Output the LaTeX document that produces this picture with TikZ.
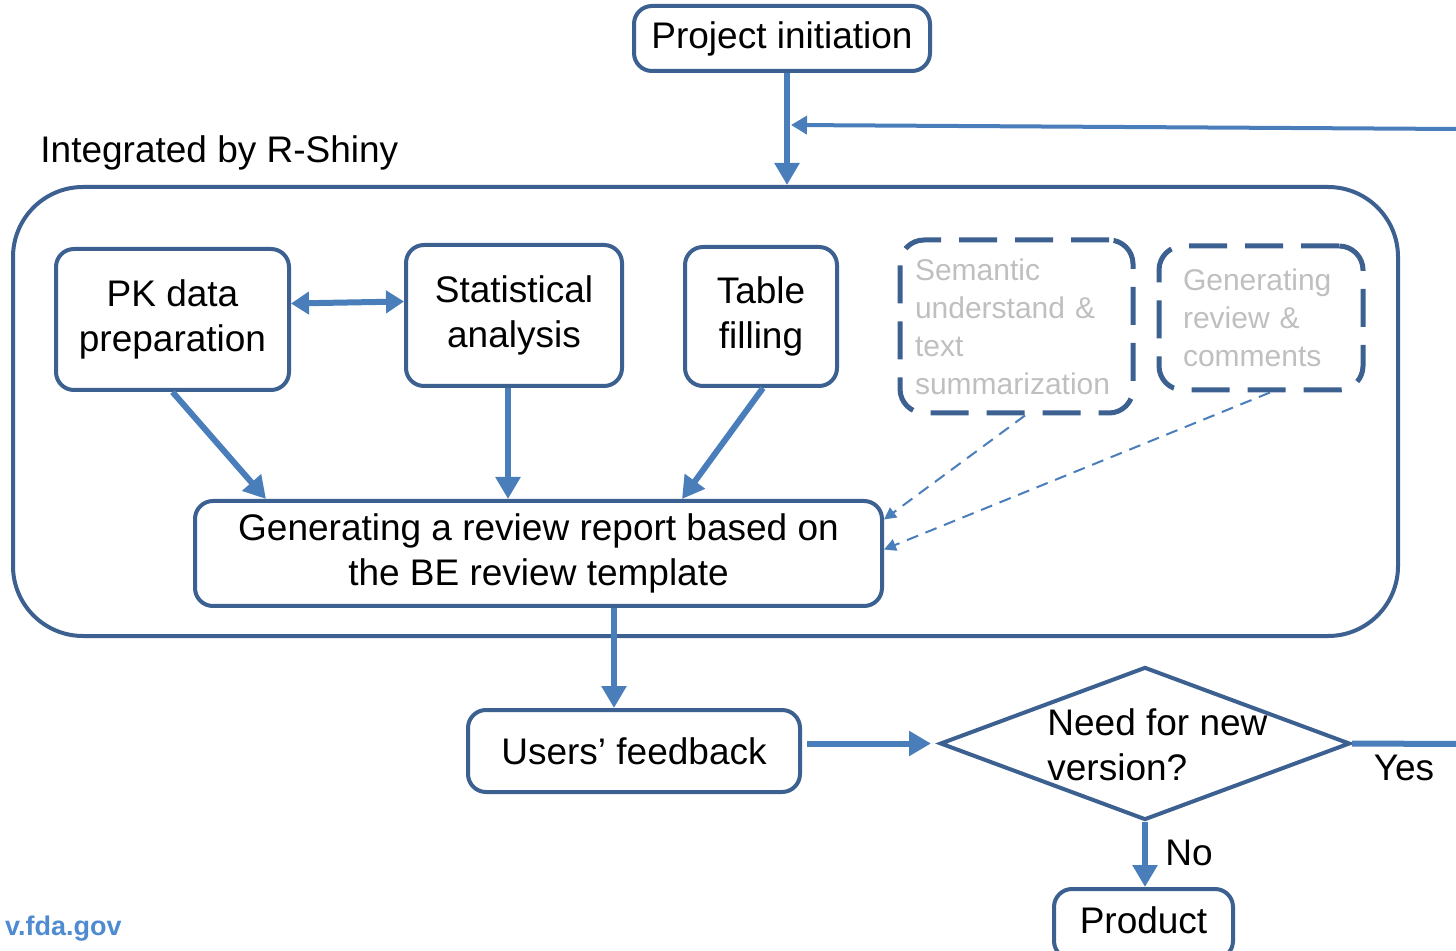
\documentclass[tikz,border=0pt]{standalone}
\usepackage{fontspec}
\setmainfont{Liberation Sans}
\usetikzlibrary{arrows.meta,shapes.geometric}
\definecolor{boxc}{HTML}{3C6090}
\definecolor{arrc}{HTML}{4A7EBB}
\definecolor{grayt}{HTML}{BFBFBF}
\definecolor{fdac}{HTML}{4F8BD0}
\begin{document}
\begin{tikzpicture}[x=0.5pt,y=-0.5pt,
  mfont/.style={font=\fontsize{18.5}{22.5}\selectfont},
  box/.style={draw=boxc, line width=2pt, rounded corners=9pt, fill=white, align=center, inner sep=0pt, mfont},
  dbox/.style={draw=boxc, line width=2.5pt, rounded corners=12pt, dash pattern=on 19pt off 9pt, text=grayt, align=left, font=\fontsize{15}{19}\selectfont},
  arr/.style={draw=arrc, line width=3pt, -{Triangle[length=11pt,width=12pt]}},
  arrs/.style={draw=arrc, line width=2pt, -{Triangle[length=8pt,width=9pt]}},
  darr/.style={draw=arrc, line width=1pt, dash pattern=on 6pt off 4pt, -{Triangle[length=6pt,width=6pt]}},
  lbl/.style={inner sep=0pt, mfont}
]
\useasboundingbox (0,0) rectangle (1456,951);

% nodes
\node[box, minimum width=148pt, minimum height=32.5pt] (proj) at (782,38.5) {Project initiation};
\node[draw=boxc, line width=2pt, rounded corners=35pt, minimum width=692.5pt, minimum height=224.5pt] (cont) at (705.5,411.5) {};
\node[lbl, anchor=base west] (intg) at (40,163) {Integrated by R-Shiny};

\node[box, minimum width=116.5pt, minimum height=70.5pt] (pk) at (172.5,319.5) {PK data\\preparation};
\node[box, minimum width=108pt, minimum height=70.5pt] (stat) at (514,315.5) {Statistical\\analysis};
\node[box, minimum width=76pt, minimum height=69.5pt] (tab) at (761,316.5) {Table\\filling};
\node[dbox, minimum width=116.5pt, minimum height=86.5pt, text width=101.5pt, inner xsep=7.5pt] (sem) at (1016.5,326.5) {Semantic\\understand \&\\text\\summarization};
\node[dbox, minimum width=102pt, minimum height=72pt, text width=78pt, inner xsep=12pt] (gen) at (1261,318) {Generating\\review \&\\comments};

\node[box, minimum width=343.5pt, minimum height=52.5pt] (rep) at (538.5,553.5) {\raisebox{-2pt}{\parbox{340pt}{\centering Generating a review report based on\\the BE review template}}};
\node[box, minimum width=166pt, minimum height=41pt] (usr) at (634,751) {Users’ feedback};
\node[draw=boxc, line width=2pt, shape=diamond, aspect=2.68, inner sep=0pt, minimum width=205pt, minimum height=76.5pt] (dec) at (1145,743.5) {};
\node[lbl, align=left, anchor=west] (dect) at (1047,745) {Need for new\\version?};
\node[box, minimum width=89.5pt, minimum height=35pt] (prod) at (1143.5,924) {\raisebox{3.5pt}{Product}};

\node[lbl] (yes) at (1404,768) {Yes};
\node[lbl] (no) at (1189,853) {No};

\node[inner sep=0pt, anchor=base east, text=fdac, font=\bfseries\fontsize{13.5}{16}\selectfont] (fda) at (122,935) {v.fda.gov};

% connectors
\coordinate (fbs) at (1456,129);
\coordinate (fbe) at (791,125);
\coordinate (yese) at (1456,744);
\draw[arr] ([xshift=2.5pt]proj.south) -- ([xshift=2.5pt]proj.south |- cont.north);
\draw[arrs] (fbs) -- (fbe);
\draw[draw=arrc, line width=3pt, {Triangle[length=9pt,width=11pt]}-{Triangle[length=9pt,width=11pt]}] ([yshift=8pt]pk.east) -- ([yshift=7pt]stat.west);
\draw[arr] (pk.south) -- ([xshift=36.5pt]rep.north west);
\draw[arr] ([xshift=-3pt]stat.south) -- ([xshift=-3pt]stat.south |- rep.north);
\draw[arr] ([xshift=1pt]tab.south) -- ([xshift=244.5pt]rep.north west);
\draw[darr] ([xshift=4.25pt]sem.south) -- ([yshift=17pt]rep.east);
\draw[darr] ([xshift=4.5pt]gen.south) -- ([yshift=2pt]rep.east);
\draw[arr] ([xshift=37.75pt]rep.south) -- ([xshift=37.75pt]rep.south |- usr.north);
\draw[arr, shorten <=2.5pt, shorten >=3.5pt] (usr.east |- dec.west) -- (dec.west);
\draw[draw=arrc, line width=3pt] (dec.east) -- (yese);
\draw[arr] (dec.south) -- (dec.south |- prod.north);
\end{tikzpicture}
\end{document}
